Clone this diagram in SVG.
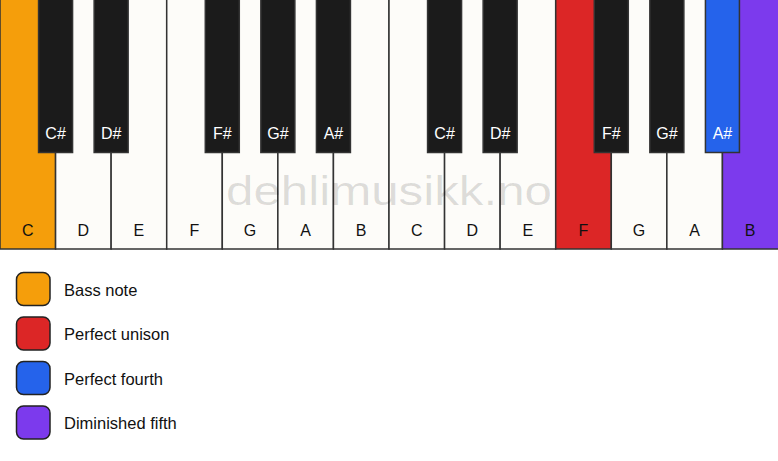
<svg xmlns="http://www.w3.org/2000/svg" width="778" height="461" viewBox="0 0 778 461">
<style>
.w{fill:#fdfcf9;stroke:#333;stroke-width:1.5}
.b{fill:#1b1b1b;stroke:#333;stroke-width:1.5}
.lw{font-family:"Liberation Sans",Arial,sans-serif;font-size:16px;fill:#111;text-anchor:middle}
.lb{font-family:"Liberation Sans",Arial,sans-serif;font-size:16px;fill:#fff;text-anchor:middle}
.leg{stroke:#222;stroke-width:1.5}
.lt{font-family:"Liberation Sans",Arial,sans-serif;font-size:16.5px;fill:#111}
.wm{font-family:"Liberation Sans",Arial,sans-serif;font-size:41px;fill:#000;fill-opacity:0.13;text-anchor:middle}
</style>
<rect width="778" height="461" fill="#ffffff"/>
<g id="white-keys">
<g id="w-C1"><rect class="w" x="0" y="-1" width="55.57" height="250" style="fill:#f59e0b"/><text class="lw" x="27.79" y="236">C</text></g>
<g id="w-D1"><rect class="w" x="55.57" y="-1" width="55.57" height="250"/><text class="lw" x="83.36" y="236">D</text></g>
<g id="w-E1"><rect class="w" x="111.14" y="-1" width="55.57" height="250"/><text class="lw" x="138.93" y="236">E</text></g>
<g id="w-F1"><rect class="w" x="166.71" y="-1" width="55.57" height="250"/><text class="lw" x="194.5" y="236">F</text></g>
<g id="w-G1"><rect class="w" x="222.29" y="-1" width="55.57" height="250"/><text class="lw" x="250.07" y="236">G</text></g>
<g id="w-A1"><rect class="w" x="277.86" y="-1" width="55.57" height="250"/><text class="lw" x="305.64" y="236">A</text></g>
<g id="w-B1"><rect class="w" x="333.43" y="-1" width="55.57" height="250"/><text class="lw" x="361.21" y="236">B</text></g>
<g id="w-C2"><rect class="w" x="389" y="-1" width="55.57" height="250"/><text class="lw" x="416.79" y="236">C</text></g>
<g id="w-D2"><rect class="w" x="444.57" y="-1" width="55.57" height="250"/><text class="lw" x="472.36" y="236">D</text></g>
<g id="w-E2"><rect class="w" x="500.14" y="-1" width="55.57" height="250"/><text class="lw" x="527.93" y="236">E</text></g>
<g id="w-F2"><rect class="w" x="555.71" y="-1" width="55.57" height="250" style="fill:#dc2626"/><text class="lw" x="583.5" y="236">F</text></g>
<g id="w-G2"><rect class="w" x="611.29" y="-1" width="55.57" height="250"/><text class="lw" x="639.07" y="236">G</text></g>
<g id="w-A2"><rect class="w" x="666.86" y="-1" width="55.57" height="250"/><text class="lw" x="694.64" y="236">A</text></g>
<g id="w-B2"><rect class="w" x="722.43" y="-1" width="56.57" height="250" style="fill:#7c3aed"/><text class="lw" x="750.21" y="236">B</text></g>
</g>
<text class="wm" x="389" y="204.5" textLength="326" lengthAdjust="spacingAndGlyphs">dehlimusikk.no</text>
<g id="black-keys">
<g id="b-Cs1"><rect class="b" x="38.57" y="-1" width="34" height="153.5"/><text class="lb" x="55.57" y="138.5">C#</text></g>
<g id="b-Ds1"><rect class="b" x="94.14" y="-1" width="34" height="153.5"/><text class="lb" x="111.14" y="138.5">D#</text></g>
<g id="b-Fs1"><rect class="b" x="205.29" y="-1" width="34" height="153.5"/><text class="lb" x="222.29" y="138.5">F#</text></g>
<g id="b-Gs1"><rect class="b" x="260.86" y="-1" width="34" height="153.5"/><text class="lb" x="277.86" y="138.5">G#</text></g>
<g id="b-As1"><rect class="b" x="316.43" y="-1" width="34" height="153.5"/><text class="lb" x="333.43" y="138.5">A#</text></g>
<g id="b-Cs2"><rect class="b" x="427.57" y="-1" width="34" height="153.5"/><text class="lb" x="444.57" y="138.5">C#</text></g>
<g id="b-Ds2"><rect class="b" x="483.14" y="-1" width="34" height="153.5"/><text class="lb" x="500.14" y="138.5">D#</text></g>
<g id="b-Fs2"><rect class="b" x="594.29" y="-1" width="34" height="153.5"/><text class="lb" x="611.29" y="138.5">F#</text></g>
<g id="b-Gs2"><rect class="b" x="649.86" y="-1" width="34" height="153.5"/><text class="lb" x="666.86" y="138.5">G#</text></g>
<g id="b-As2"><rect class="b" x="705.43" y="-1" width="34" height="153.5" style="fill:#2563eb"/><text class="lb" x="722.43" y="138.5">A#</text></g>
</g>
<g id="legend">
<g id="leg-bass"><rect class="leg" x="16.5" y="272.5" width="33.5" height="33" rx="7" fill="#f59e0b"/><text class="lt" x="64" y="295.5">Bass note</text></g>
<g id="leg-unison"><rect class="leg" x="16.5" y="317" width="33.5" height="33" rx="7" fill="#dc2626"/><text class="lt" x="64" y="340">Perfect unison</text></g>
<g id="leg-fourth"><rect class="leg" x="16.5" y="361.5" width="33.5" height="33" rx="7" fill="#2563eb"/><text class="lt" x="64" y="384.5">Perfect fourth</text></g>
<g id="leg-fifth"><rect class="leg" x="16.5" y="406" width="33.5" height="33" rx="7" fill="#7c3aed"/><text class="lt" x="64" y="429">Diminished fifth</text></g>
</g>
</svg>
